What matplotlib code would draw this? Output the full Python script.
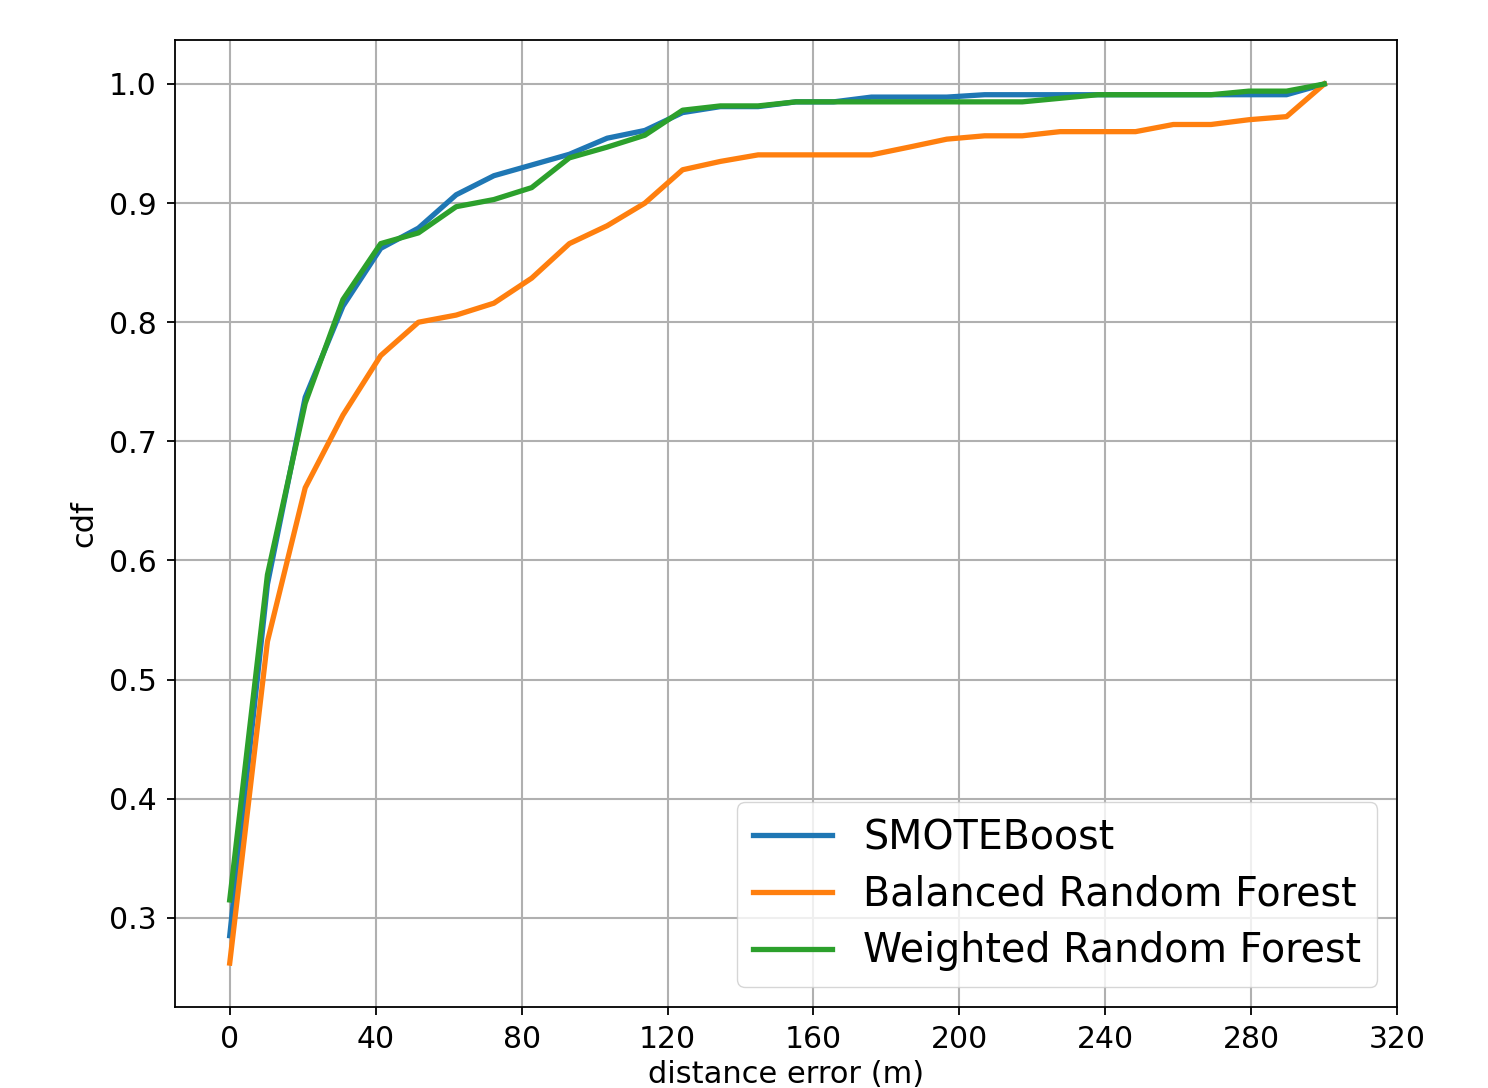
import matplotlib
matplotlib.use("Agg")
import matplotlib.pyplot as plt

# distance error grid (m)
distance = [0.0, 10.34, 20.69, 31.03, 41.38, 51.72, 62.07, 72.41, 82.76, 93.10,
            103.45, 113.79, 124.14, 134.48, 144.83, 155.17, 165.52, 175.86, 186.21, 196.55,
            206.90, 217.24, 227.59, 237.93, 248.28, 258.62, 268.97, 279.31, 289.66, 300.0]

# cdf values per method
smoteboost = [0.285, 0.580, 0.737, 0.8135, 0.862, 0.879, 0.907, 0.923, 0.932, 0.941,
              0.9545, 0.961, 0.976, 0.981, 0.981, 0.985, 0.985, 0.989, 0.989, 0.989,
              0.991, 0.991, 0.991, 0.991, 0.991, 0.991, 0.991, 0.991, 0.991, 1.0]
balanced_rf = [0.262, 0.532, 0.661, 0.722, 0.772, 0.800, 0.806, 0.816, 0.837, 0.866,
               0.881, 0.900, 0.928, 0.935, 0.9405, 0.9405, 0.9405, 0.9405, 0.947, 0.9537,
               0.9565, 0.9565, 0.960, 0.960, 0.960, 0.966, 0.966, 0.970, 0.9726, 1.0]
weighted_rf = [0.315, 0.588, 0.732, 0.819, 0.866, 0.875, 0.897, 0.903, 0.913, 0.938,
               0.947, 0.957, 0.978, 0.9816, 0.9816, 0.985, 0.985, 0.985, 0.985, 0.985,
               0.985, 0.985, 0.988, 0.991, 0.991, 0.991, 0.991, 0.994, 0.994, 1.0]

labels = ["SMOTEBoost", "Balanced Random Forest", "Weighted Random Forest"]
x_ticks = [0, 40, 80, 120, 160, 200, 240, 280, 320]

fig = plt.figure(figsize=(14.88, 10.88), dpi=100)
ax = fig.add_axes([0.1176, 0.0744, 0.8214, 0.8888])

for series, label, color in zip([smoteboost, balanced_rf, weighted_rf], labels,
                                ["#1f77b4", "#ff7f0e", "#2ca02c"]):
    ax.plot(distance, series, color=color, linewidth=3.8, label=label)

ax.set_xlim(-15, 320)
ax.set_xticks(x_ticks)
ax.grid(True, color="#b0b0b0", linewidth=1.5)
ax.tick_params(labelsize=21.5, length=6, width=1.3, pad=7)
for spine in ax.spines.values():
    spine.set_linewidth(1.3)

ax.set_xlabel("distance error (m)", fontsize=22, labelpad=4)
ax.set_ylabel("cdf", fontsize=22, labelpad=8)
ax.legend(loc="lower right", fontsize=28.5, handlelength=2.0, labelspacing=0.42)

fig.savefig("out.png", dpi=100)
